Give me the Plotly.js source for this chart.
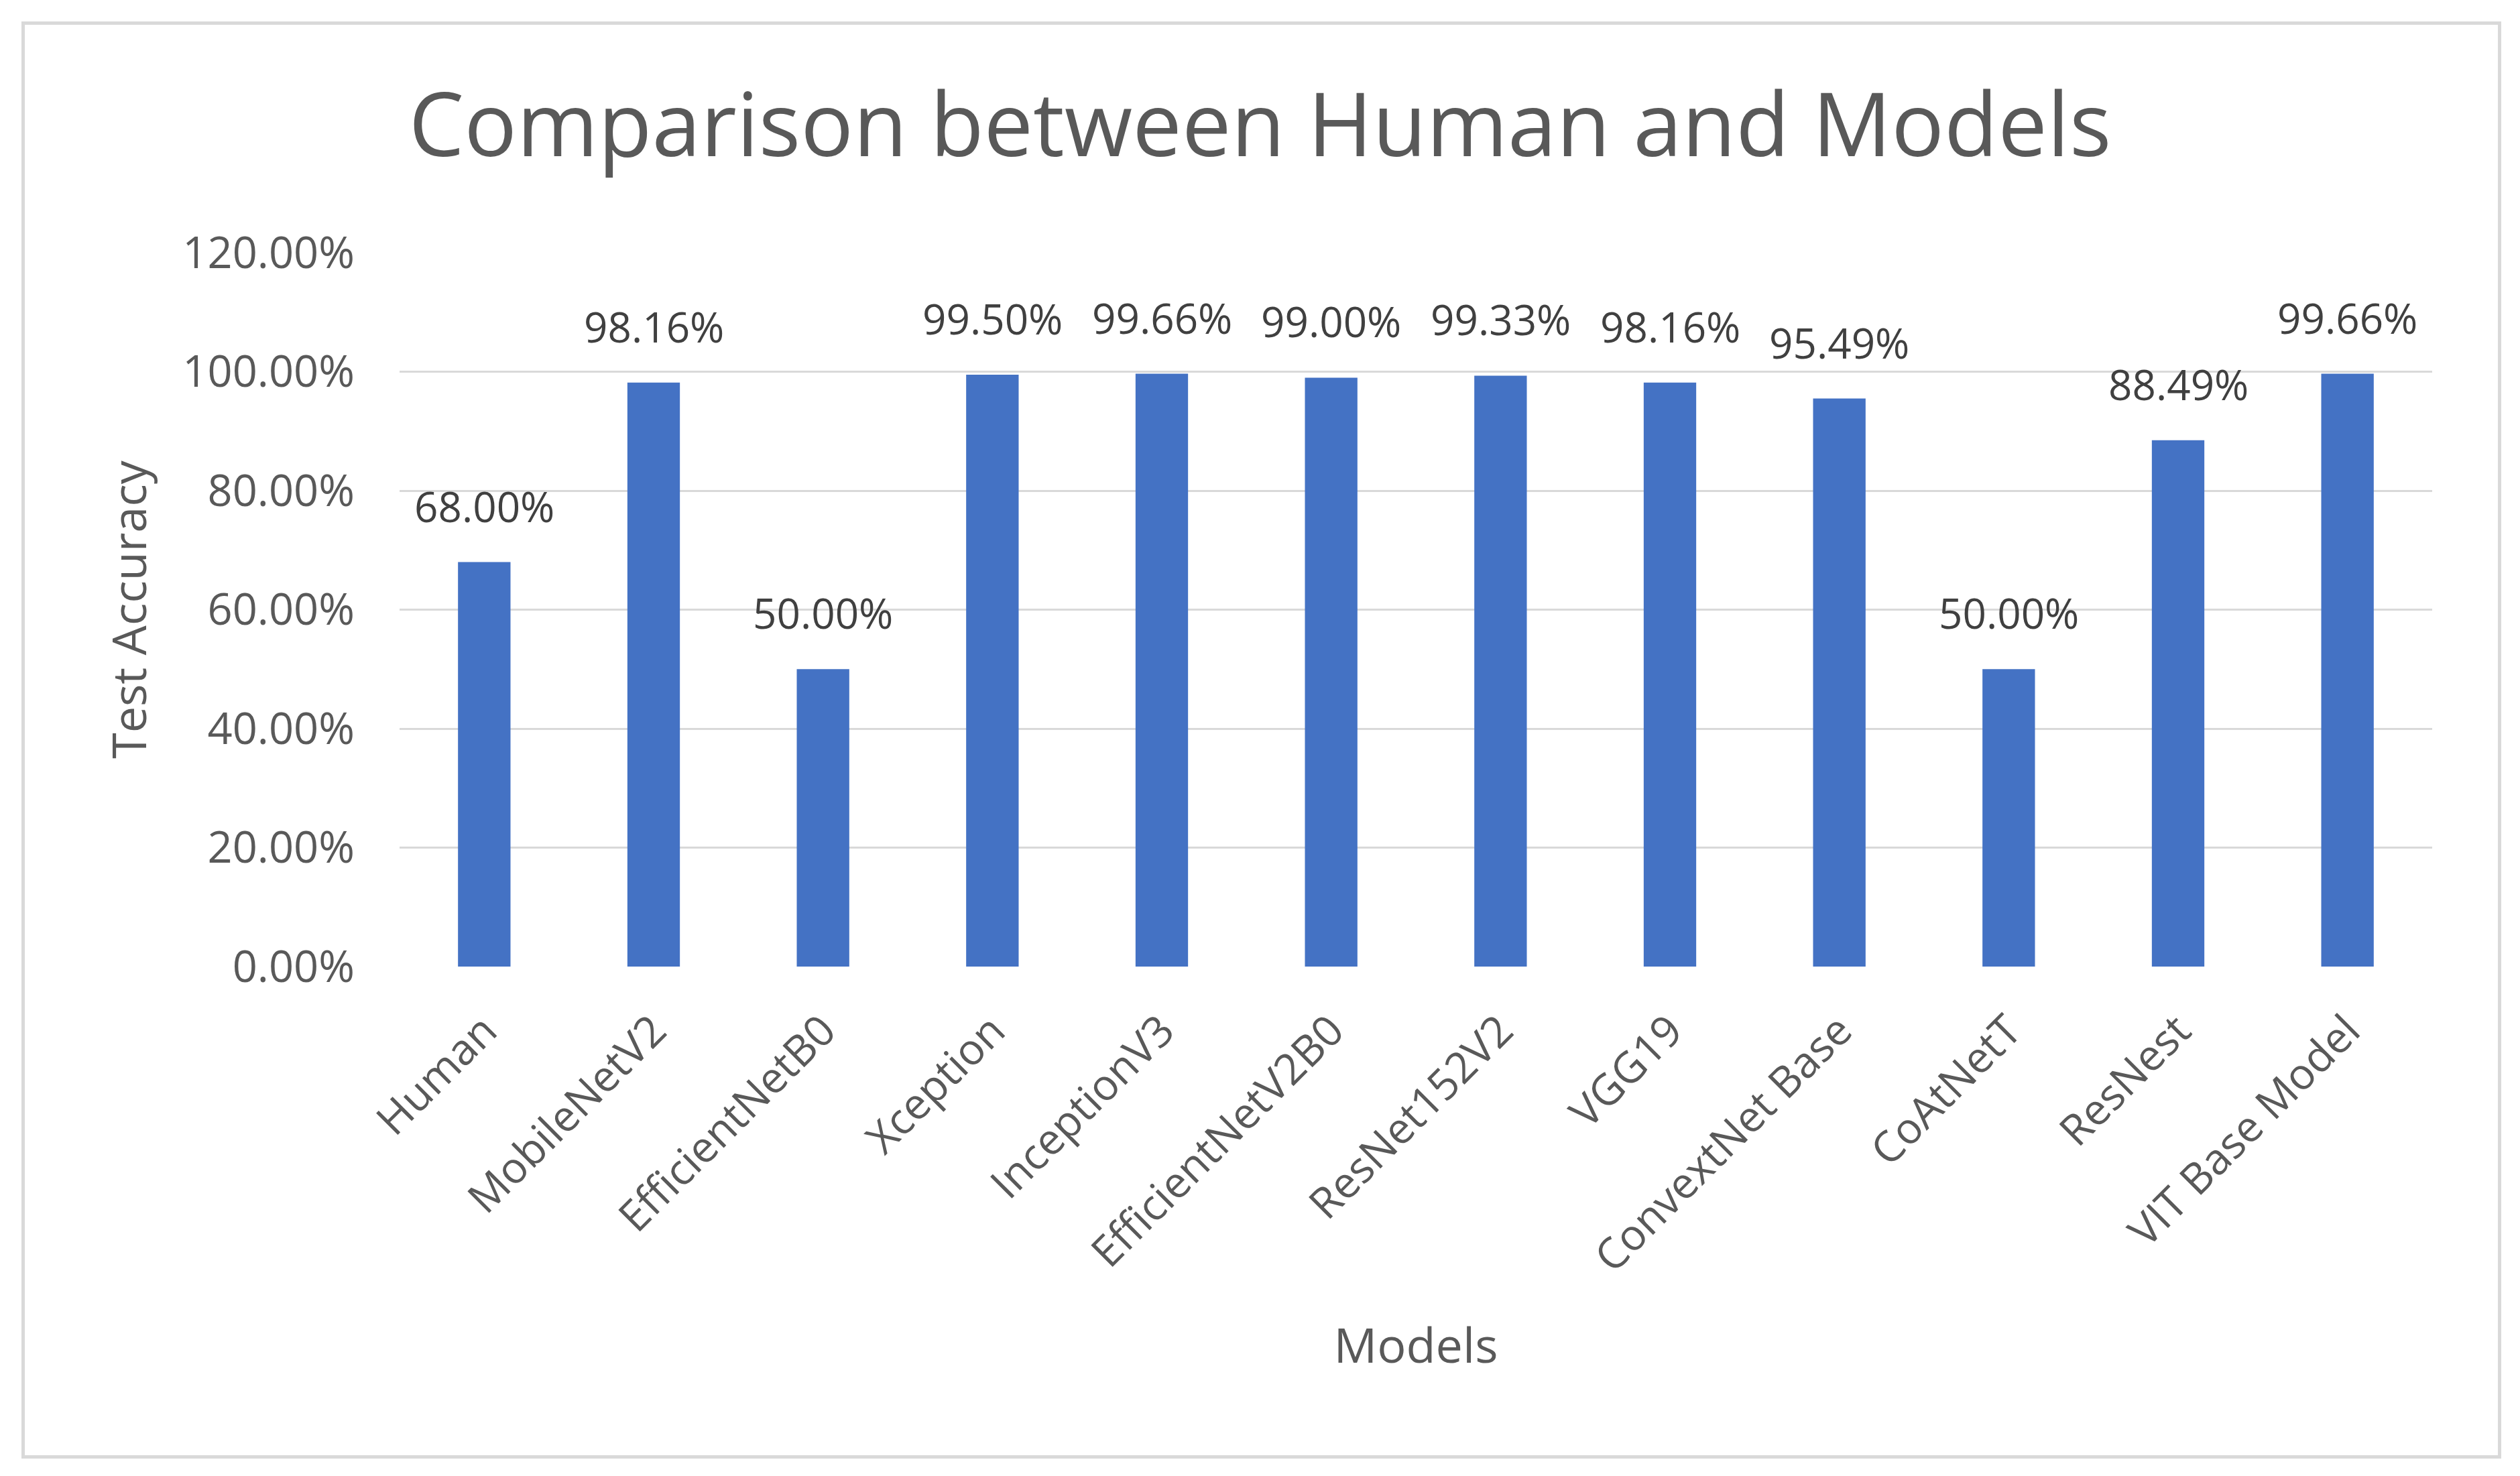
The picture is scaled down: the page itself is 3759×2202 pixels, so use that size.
<!DOCTYPE html>
<html>
<head>
<meta charset="utf-8">
<script src="https://cdn.plot.ly/plotly-3.0.1.min.js"></script>
<style>
html, body { margin: 0; padding: 0; background: #ffffff; }
#frame { position: absolute; left: 32px; top: 32px; width: 3689px; height: 2134px; border: 5px solid #d9d9d9; }
#chart { position: absolute; left: 0; top: 0; width: 3759px; height: 2202px; }
</style>
</head>
<body>
<div id="frame"></div>
<div id="chart"></div>
<script>
const categories = ["Human", "MobileNetV2", "EfficientNetB0", "Xception", "InceptionV3", "EfficientNetV2B0", "ResNet152V2", "VGG19", "ConvextNet Base", "CoAtNetT", "ResNest", "VIT Base Model"];
const accuracy = [0.68, 0.9816, 0.50, 0.995, 0.9966, 0.99, 0.9933, 0.9816, 0.9549, 0.50, 0.8849, 0.9966];
const yTickValues = [0, 0.2, 0.4, 0.6, 0.8, 1.0, 1.2];
const yTickLabels = ["0.00%", "20.00%", "40.00%", "60.00%", "80.00%", "100.00%", "120.00%"];

const FONT = "'Open Sans', 'Noto Sans', 'Liberation Sans', sans-serif";
const TXT = "#595959";

const trace = {
  type: "bar",
  x: categories,
  y: accuracy,
  marker: { color: "#4472C4" },
  hoverinfo: "x+y"
};

const labelAnnotations = categories.map((c, i) => ({
  x: c,
  y: accuracy[i],
  xref: "x",
  yref: "y",
  text: (accuracy[i] * 100).toFixed(2) + "%",
  showarrow: false,
  yanchor: "bottom",
  xanchor: "center",
  yshift: 40,
  font: { family: FONT, size: 62, color: "#404040" }
}));

const layout = {
  width: 3759,
  height: 2202,
  paper_bgcolor: "rgba(0,0,0,0)",
  plot_bgcolor: "rgba(0,0,0,0)",
  margin: { l: 596, r: 131, t: 377, b: 760 },
  bargap: 0.69,
  showlegend: false,
  title: {
    text: "Comparison between Human and Models",
    font: { family: FONT, size: 131, color: TXT },
    x: 0.5,
    xref: "container",
    xanchor: "center",
    y: 1 - 187 / 2202,
    yref: "container",
    yanchor: "middle"
  },
  xaxis: {
    type: "category",
    tickangle: -45,
    ticks: "",
    showgrid: false,
    showline: false,
    zeroline: false,
    ticklabelstandoff: 44,
    tickfont: { family: FONT, size: 64, color: TXT },
    title: { text: "Models", font: { family: FONT, size: 72, color: TXT }, standoff: 68 }
  },
  yaxis: {
    range: [0, 1.2],
    tickvals: yTickValues,
    ticktext: yTickLabels,
    ticks: "",
    showline: false,
    zeroline: false,
    showgrid: true,
    gridcolor: "#d9d9d9",
    gridwidth: 3,
    ticklabelstandoff: 66,
    tickfont: { family: FONT, size: 65, color: TXT },
    title: { text: "Test Accuracy", font: { family: FONT, size: 70, color: TXT }, standoff: 30 }
  },
  annotations: labelAnnotations
};

Plotly.newPlot("chart", [trace], layout, { displayModeBar: false, staticPlot: true });
</script>
</body>
</html>
